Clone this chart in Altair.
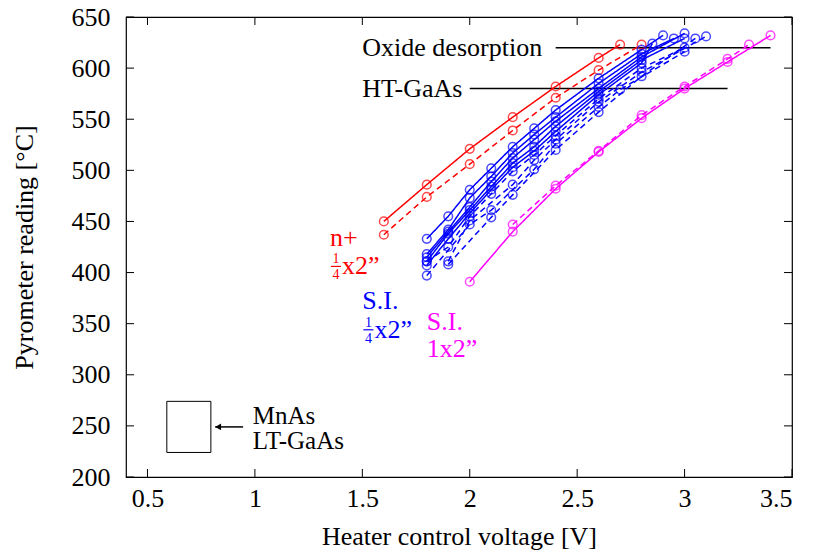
import altair as alt
import pandas as pd

# ---- measured heater-voltage / pyrometer-reading runs ----
# red: n+ quarter-wafer (1/4 x 2")
red_solid_v = [1.6, 1.8, 2.0, 2.2, 2.4, 2.6, 2.7]
red_solid_t = [450, 486, 521, 552, 582, 610, 623]
red_dash_v = [1.6, 1.8, 2.0, 2.2, 2.4, 2.6, 2.8]
red_dash_t = [437, 474, 506, 539, 571, 598, 623]

# magenta: semi-insulating full wafer (1 x 2")
mag_solid_v = [2.0, 2.2, 2.4, 2.6, 2.8, 3.0, 3.2, 3.4]
mag_solid_t = [391, 440, 482, 518, 551, 580, 606, 632]
mag_dash_v = [2.2, 2.4, 2.6, 2.8, 3.0, 3.2, 3.3]
mag_dash_t = [447, 485, 519, 554, 582, 609, 623]

# blue: semi-insulating quarter-wafers (1/4 x 2")
b1_v = [1.8, 1.9, 2.0, 2.1, 2.2, 2.3, 2.4, 2.6, 2.8, 2.9]
b1_t = [433, 455, 481, 502, 523, 541, 559, 590, 618, 632]
b2_v = [1.8, 1.9, 2.0, 2.1, 2.2, 2.3, 2.4, 2.6, 2.8, 2.95]
b2_t = [418, 442, 473, 494, 517, 535, 552, 585, 614, 629]
b3_v = [1.8, 1.9, 2.0, 2.1, 2.2, 2.3, 2.4, 2.6, 2.8, 3.0]
b3_t = [415, 440, 464, 489, 512, 530, 548, 580, 611, 634]
b4_v = [1.8, 1.9, 2.0, 2.1, 2.2, 2.3, 2.4, 2.6, 2.8, 3.0]
b4_t = [411, 438, 461, 484, 507, 523, 543, 577, 608, 629]
b5_v = [1.8, 1.9, 2.0, 2.1, 2.2, 2.3, 2.4, 2.6, 2.8, 2.85]
b5_t = [407, 433, 458, 481, 503, 519, 538, 574, 605, 624]
b6_v = [1.8, 1.9, 2.0, 2.1, 2.2, 2.3, 2.4, 2.6, 2.8, 3.0]
b6_t = [411, 425, 455, 477, 499, 515, 534, 570, 600, 620]
b7_v = [1.9, 2.0, 2.2, 2.3, 2.4, 2.6, 2.8, 3.1]
b7_t = [411, 451, 486, 510, 530, 567, 596, 631]
b8_v = [1.8, 2.0, 2.1, 2.3, 2.4, 2.6, 2.7, 3.0]
b8_t = [397, 447, 461, 501, 526, 562, 579, 616]
b9_v = [1.9, 2.1, 2.2, 2.4, 2.6, 2.8, 3.05]
b9_t = [408, 454, 476, 520, 557, 592, 629]

runs = [
    ("r1", "n+", "solid", red_solid_v, red_solid_t),
    ("r2", "n+", "dashed", red_dash_v, red_dash_t),
    ("b1", "SI quarter", "solid", b1_v, b1_t),
    ("b2", "SI quarter", "solid", b2_v, b2_t),
    ("b3", "SI quarter", "solid", b3_v, b3_t),
    ("b4", "SI quarter", "solid", b4_v, b4_t),
    ("b5", "SI quarter", "solid", b5_v, b5_t),
    ("b6", "SI quarter", "dashed", b6_v, b6_t),
    ("b7", "SI quarter", "dashed", b7_v, b7_t),
    ("b8", "SI quarter", "dashed", b8_v, b8_t),
    ("b9", "SI quarter", "dashed", b9_v, b9_t),
    ("m1", "SI full", "solid", mag_solid_v, mag_solid_t),
    ("m2", "SI full", "dashed", mag_dash_v, mag_dash_t),
]

groups = ["n+", "SI quarter", "SI full"]
group_colors = ["#ff0000", "#0000ff", "#ff00ff"]

# reference temperatures
ref_labels = ["Oxide desorption", "HT-GaAs"]
ref_temp = [620, 580]
ref_label_v = [1.5, 1.5]
ref_line_v = [2.4, 2.0]
ref_line_v2 = [3.4, 3.2]

# sample-type labels
lab_text = ["n+", "S.I.", "S.I.", "1x2\u201d"]
lab_v = [1.35, 1.50, 1.80, 1.80]
lab_t = [434, 372, 352, 325]
lab_group = ["n+", "SI quarter", "SI full", "SI full"]
frac_v = [1.354, 1.505]
frac_t = [406, 344]
frac_group = ["n+", "SI quarter"]

# sample sketch (wafer stack) with arrow
box_v, box_v2, box_t, box_t2 = [0.59], [0.795], [224], [274]
arrow_v, arrow_v2, arrow_t = [0.815], [0.945], [249]
stack_lines = ["MnAs", "LT-GaAs"]
stack_v = [0.99]
stack_t = [260]

x_ticks = [0.5, 1.0, 1.5, 2.0, 2.5, 3.0, 3.5]
y_ticks = [200, 250, 300, 350, 400, 450, 500, 550, 600, 650]

W, H = 666, 460
FONT = "'Liberation Serif', 'DejaVu Serif', serif"
FS = 26

rows = []
for rid, grp, sty, vs, ts in runs:
    for v, t in zip(vs, ts):
        rows.append({"run": rid, "group": grp, "style": sty, "v": v, "t": t})
df = pd.DataFrame(rows)

xscale = alt.Scale(domain=[0.4, 3.5], nice=False, zero=False)
yscale = alt.Scale(domain=[200, 650], nice=False, zero=False)
xaxis = alt.Axis(values=x_ticks, title="Heater control voltage [V]",
                 labelExpr="'' + datum.value", labelPadding=8, titlePadding=12,
                 domain=False, ticks=False, grid=False)
yaxis = alt.Axis(values=y_ticks, title="Pyrometer reading [\u00b0C]",
                 labelPadding=16, titlePadding=34,
                 domain=False, ticks=False, grid=False)


def X(field="v"):
    return alt.X(field, type="quantitative", scale=xscale, axis=xaxis)


def Y(field="t"):
    return alt.Y(field, type="quantitative", scale=yscale, axis=yaxis)


color = alt.Color("group:N", scale=alt.Scale(domain=groups, range=group_colors), legend=None)

lines = alt.Chart(df).mark_line(strokeWidth=1.5, clip=True).encode(
    x=X(), y=Y(), detail="run:N", color=color,
    strokeDash=alt.StrokeDash("style:N", scale=alt.Scale(domain=["solid", "dashed"],
                                                         range=[[1, 0], [6, 4]]), legend=None),
    order="v:Q",
)
points = alt.Chart(df).mark_point(shape="circle", filled=False, size=75, strokeWidth=1.5).encode(
    x=X(), y=Y(), color=color)

# inward tick marks on all four sides
xt = pd.DataFrame({"v": x_ticks})
yt = pd.DataFrame({"t": y_ticks})
tick_bottom = alt.Chart(xt).mark_rule(color="black", strokeWidth=1).encode(
    x=X(), y=alt.value(H), y2=alt.value(H - 8))
tick_top = alt.Chart(xt).mark_rule(color="black", strokeWidth=1).encode(
    x=X(), y=alt.value(0), y2=alt.value(8))
tick_left = alt.Chart(yt).mark_rule(color="black", strokeWidth=1).encode(
    y=Y(), x=alt.value(0), x2=alt.value(8))
tick_right = alt.Chart(yt).mark_rule(color="black", strokeWidth=1).encode(
    y=Y(), x=alt.value(W), x2=alt.value(W - 8))

ref_df = pd.DataFrame({"label": ref_labels, "t": ref_temp, "lv": ref_label_v,
                       "v": ref_line_v, "v2": ref_line_v2})
ref_lines = alt.Chart(ref_df).mark_rule(color="black", strokeWidth=1.5).encode(
    x=X("v"), x2="v2", y=Y())
ref_text = alt.Chart(ref_df).mark_text(align="left", baseline="middle", font=FONT,
                                        fontSize=FS, color="black").encode(
    x=X("lv"), y=Y(), text="label:N")

lab_df = pd.DataFrame({"text": lab_text, "v": lab_v, "t": lab_t, "group": lab_group})
lab = alt.Chart(lab_df).mark_text(align="left", baseline="middle", font=FONT,
                                  fontSize=FS).encode(x=X(), y=Y(), text="text:N", color=color)

frac_df = pd.DataFrame({"v": frac_v, "t": frac_t, "group": frac_group})
frac_num = alt.Chart(frac_df).mark_text(align="center", baseline="middle", font=FONT,
                                        fontSize=14, dx=5, dy=-7, text="1").encode(
    x=X(), y=Y(), color=color)
frac_den = alt.Chart(frac_df).mark_text(align="center", baseline="middle", font=FONT,
                                        fontSize=14, dx=5, dy=9, text="4").encode(
    x=X(), y=Y(), color=color)
frac_bar = alt.Chart(frac_df).mark_rule(strokeWidth=1.2, x2Offset=10).encode(
    x=X(), x2="v", y=Y(), color=color)
frac_rest = alt.Chart(frac_df).mark_text(align="left", baseline="middle", font=FONT,
                                         fontSize=FS, dx=11, text="x2\u201d").encode(
    x=X(), y=Y(), color=color)

box_df = pd.DataFrame({"v": box_v, "v2": box_v2, "t": box_t, "t2": box_t2})
box = alt.Chart(box_df).mark_rect(fill="white", fillOpacity=0, stroke="black",
                                  strokeWidth=1).encode(x=X(), x2="v2", y=Y(), y2="t2")
arrow_df = pd.DataFrame({"v": arrow_v, "v2": arrow_v2, "t": arrow_t})
arrow_shaft = alt.Chart(arrow_df).mark_rule(color="black", strokeWidth=1.5).encode(
    x=X(), x2="v2", y=Y())
arrow_head = alt.Chart(arrow_df).mark_point(shape="triangle-left", filled=True, color="black",
                                            opacity=1, size=45, xOffset=3).encode(x=X(), y=Y())
stack_df = pd.DataFrame({"text": ["\n".join(stack_lines)], "v": stack_v, "t": stack_t})
stack = alt.Chart(stack_df).mark_text(align="left", baseline="middle", font=FONT,
                                      fontSize=25, color="black", lineBreak="\n",
                                      lineHeight=25).encode(
    x=X(), y=Y(), text="text:N")

chart = alt.layer(
    tick_bottom, tick_top, tick_left, tick_right,
    ref_lines, ref_text,
    lines, points,
    lab, frac_num, frac_den, frac_bar, frac_rest,
    box, arrow_shaft, arrow_head, stack,
).properties(
    width=W, height=H,
    autosize=alt.AutoSizeParams(type="none"),
    padding={"left": 126, "top": 17, "right": 21, "bottom": 74},
).configure_view(
    stroke="black", strokeWidth=1.2
).configure_axis(
    labelFont=FONT, labelFontSize=FS, labelColor="black",
    titleFont=FONT, titleFontSize=FS, titleColor="black", titleFontWeight="normal",
)

chart.save("out.html", embed_options={"renderer": "svg", "actions": False})
